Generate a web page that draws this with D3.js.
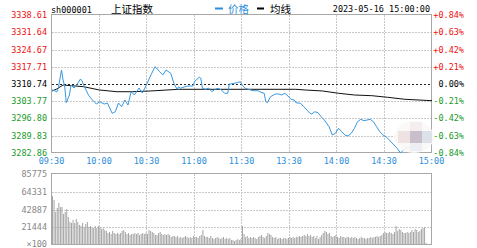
<!DOCTYPE html>
<html>
<head>
<meta charset="utf-8">
<script src="https://cdn.jsdelivr.net/npm/d3@7"></script>
<style>
body{margin:0;background:#fff;}
svg{display:block;}
.mono{font-family:"DejaVu Sans Mono",monospace;font-size:8.5px;}
.cjk{font-family:"Noto Sans CJK SC",sans-serif;font-size:10.5px;}
</style>
</head>
<body>
<svg id="chart" width="477" height="248"></svg>
<script>
var preClose = 3310.74;
var yTicks = [3338.61, 3331.64, 3324.67, 3317.71, 3310.74, 3303.77, 3296.80, 3289.83, 3282.86];
var pctTicks = ['+0.84%', '+0.63%', '+0.42%', '+0.21%', '0.00%', '-0.21%', '-0.42%', '-0.63%', '-0.84%'];
var timeTicks = [0, 30, 60, 90, 120, 150, 180, 210, 240];
var timeLabels = ['09:30', '10:00', '10:30', '11:00', '11:30', '13:30', '14:00', '14:30', '15:00'];
var volTicks = [85775, 64331, 42887, 21444];

// minutes after 09:30 (lunch break removed) and price at that minute
var priceMin = [0,2,3,4,6,7,8,9,11,12,14,16,18,19,20,23,25,28,30,33,35,38,40,42,44,46,48,50,52,55,57,59,61,63,65,66,68,70,72,75,77,79,80,81,84,86,89,90,91,93,94,95,97,99,101,103,105,107,109,111,112,113,115,117,119,120,122,124,127,130,132,134,135,136,138,141,143,145,147,149,151,153,154,157,159,161,163,164,166,168,170,172,175,177,179,181,183,185,187,189,191,193,195,197,199,201,203,205,207,209,211,213,216,218,220,221,223,225,229,234,238,240];
var price = [3308.31,3307.91,3307.50,3309.12,3316.39,3312.35,3309.93,3303.18,3306.29,3310.33,3309.12,3310.74,3312.75,3311.95,3310.33,3306.29,3304.67,3302.65,3303.58,3302.65,3303.06,3298.90,3299.54,3303.06,3301.56,3304.27,3302.25,3307.62,3306.29,3309.12,3307.10,3309.52,3312.35,3315.06,3317.72,3317.20,3315.70,3314.37,3316.39,3315.06,3311.02,3308.59,3309.64,3309.00,3309.64,3309.93,3309.93,3311.66,3312.35,3313.44,3313.04,3309.00,3308.59,3309.12,3307.62,3308.59,3309.00,3308.31,3306.98,3306.98,3310.73,3310.73,3311.02,3311.26,3311.66,3310.33,3309.00,3308.59,3308.03,3308.03,3307.38,3306.98,3303.58,3303.18,3305.60,3306.70,3306.70,3306.29,3306.98,3305.89,3304.55,3304.27,3303.18,3302.94,3301.56,3300.23,3298.90,3298.61,3299.54,3299.14,3297.52,3296.19,3293.48,3290.13,3290.82,3292.84,3291.46,3290.13,3289.73,3290.82,3292.84,3295.50,3296.47,3295.91,3296.19,3296.47,3295.50,3293.48,3291.46,3290.13,3289.44,3288.11,3286.09,3284.76,3282.98,3283.39,3284.76,3285.00,3286.09,3288.11,3290.13,3290.99];

var avgMin = [0,3,7,20,30,41,51,62,80,122,154,160,171,181,191,202,212,223,240];
var avgPrice = [3307.91,3308.72,3310.33,3309.64,3308.31,3307.62,3307.62,3307.91,3308.59,3308.59,3308.59,3308.31,3307.91,3306.98,3306.29,3306.01,3305.36,3304.55,3303.99];

// volume per minute, x100 hands
var volume = [59200,54400,39900,44700,50700,45900,45900,37500,39900,43500,
33800,27800,26600,30200,26600,31400,27800,24200,23000,26600,
21700,25400,27800,21700,23000,20500,20500,23000,20500,23000,
21700,19300,20500,18100,16900,14500,15700,13300,16900,14500,
13300,14500,13300,14500,16900,18100,15700,13300,14500,12100,
13300,13300,14500,13300,14500,12100,13300,14500,13300,14500,
13300,18100,16900,15700,14500,12100,12100,14500,15700,13300,
12100,13300,12100,13300,12100,9700,10900,10900,9700,10900,
8500,9700,8500,9700,10900,9700,8500,9700,8500,10900,
9700,9700,8500,10900,12100,18100,10900,9700,9700,8500,
10900,8500,7200,8500,9700,8500,7200,8500,9700,7200,
8500,7200,8500,6000,6000,4800,6000,7200,6000,7200,
23000,13300,9700,10900,8500,9700,8500,9700,8500,7200,
9700,10900,12100,9700,8500,10900,14500,13300,12100,9700,
8500,9700,7200,8500,8500,7200,8500,8500,7200,8500,
9700,8500,9700,8500,9700,9700,10900,9700,10900,12100,
10900,13300,10900,12100,9700,10900,8500,10900,7200,9700,
12100,14500,16900,15700,13300,14500,10900,9700,10900,12100,
9700,8500,10900,9700,9700,8500,9700,9700,8500,9700,
8500,9700,8500,7200,8500,9700,8500,8500,7200,8500,
8500,9700,8500,9700,9700,10900,9700,10900,12100,14500,
15700,14500,14500,15700,14500,13300,15700,23000,16900,19300,
18100,15700,14500,14500,15700,14500,15700,18100,15700,19300,
18100,15700,16900,19300,20500,21700,2400,0,0,0];

var svg;
var xScale, yScale, vScale;
var plot = {left:52, right:432, top:15, bottom:153};
var vplot = {top:174, bottom:245};
var gridColor = '#c8c8c8';
var blue = '#2b8ddb';
var red = '#f01010';
var green = '#1a9a2a';

document.addEventListener('DOMContentLoaded', function(){
    svg = d3.select('#chart');
    xScale = d3.scaleLinear().domain([0,240]).range([plot.left, plot.right]);
    yScale = d3.scaleLinear().domain([3282.86, 3338.61]).range([plot.bottom, plot.top]);
    vScale = d3.scaleLinear().domain([0, 85775]).range([vplot.bottom, vplot.top]);

    drawHeader();
    drawPriceGrid();
    drawPrice();
    drawVolume();
});

function labelColor(v){
    if (Math.abs(v - preClose) < 0.01) return '#000';
    return v > preClose ? red : green;
}

function drawHeader(){
    svg.append('text').attr('class','mono').attr('x',51).attr('y',12.5).text('sh000001');
    svg.append('text').attr('class','cjk').attr('x',111).attr('y',13).text('上证指数');

    svg.append('line').attr('x1',215).attr('x2',223).attr('y1',8.5).attr('y2',8.5)
        .attr('stroke',blue).attr('stroke-width',2);
    svg.append('text').attr('class','cjk').attr('x',228).attr('y',13).attr('fill',blue).text('价格');
    svg.append('line').attr('x1',257).attr('x2',264).attr('y1',8.5).attr('y2',8.5)
        .attr('stroke','#000').attr('stroke-width',2);
    svg.append('text').attr('class','cjk').attr('x',270).attr('y',13).text('均线');

    svg.append('text').attr('class','mono').attr('x',430).attr('y',12).attr('text-anchor','end')
        .text('2023-05-16 15:00:00');
}

function drawPriceGrid(){
    // horizontal grid
    svg.selectAll('.hgrid')
        .data(yTicks.filter(d => d != yTicks[0] && d != yTicks[yTicks.length-1] && d != preClose))
        .join('line')
        .attr('class','hgrid')
        .attr('x1',plot.left).attr('x2',plot.right)
        .attr('y1',d => Math.round(yScale(d))+0.5).attr('y2',d => Math.round(yScale(d))+0.5)
        .attr('stroke',gridColor).attr('stroke-dasharray','2,1');

    svg.selectAll('.vgrid')
        .data(timeTicks.slice(1,-1))
        .join('line')
        .attr('class','vgrid')
        .attr('x1',d => Math.round(xScale(d))-0.5).attr('x2',d => Math.round(xScale(d))-0.5)
        .attr('y1',plot.top).attr('y2',plot.bottom)
        .attr('stroke',gridColor).attr('stroke-dasharray','2,1');

    // previous close
    svg.append('line')
        .attr('x1',plot.left).attr('x2',plot.right)
        .attr('y1',Math.round(yScale(preClose))+0.5).attr('y2',Math.round(yScale(preClose))+0.5)
        .attr('stroke','#222').attr('stroke-dasharray','2,2');

    svg.append('rect')
        .attr('x',plot.left-0.5).attr('y',plot.top-0.5)
        .attr('width',plot.right-plot.left).attr('height',plot.bottom-plot.top)
        .attr('fill','none').attr('stroke','#a8a8a8');

    svg.selectAll('.ylab')
        .data(yTicks)
        .join('text')
        .attr('class','mono ylab')
        .attr('x',47)
        .attr('y',d => yScale(d)+3)
        .attr('text-anchor','end')
        .attr('fill',d => labelColor(d))
        .text(d => d.toFixed(2));

    svg.selectAll('.plab')
        .data(pctTicks)
        .join('text')
        .attr('class','mono plab')
        .attr('x',464)
        .attr('y',(d,i) => yScale(yTicks[i])+3)
        .attr('text-anchor','end')
        .attr('fill',(d,i) => labelColor(yTicks[i]))
        .text(d => d);

    svg.selectAll('.xlab')
        .data(timeTicks)
        .join('text')
        .attr('class','mono xlab')
        .attr('x',d => xScale(d)-0.5)
        .attr('y',164)
        .attr('text-anchor','middle')
        .attr('fill',blue)
        .text((d,i) => timeLabels[i]);
}

function drawPrice(){
    var line = d3.line().x(d => xScale(d[0])).y(d => yScale(d[1]));

    svg.append('path')
        .datum(avgMin.map((m,i) => [m, avgPrice[i]]))
        .attr('d',line)
        .attr('fill','none')
        .attr('stroke','#111')
        .attr('stroke-width',1);

    svg.append('path')
        .datum(priceMin.map((m,i) => [m, price[i]]))
        .attr('d',line)
        .attr('fill','none')
        .attr('stroke','#3797e0')
        .attr('stroke-width',1);

    // blurred mosaic patch over the end of the line
    var g = svg.append('g');
    g.append('ellipse').attr('cx',414).attr('cy',137).attr('rx',20).attr('ry',16)
        .attr('fill','#fbf7f7').attr('opacity',0.9);
    g.append('rect').attr('x',398).attr('y',131).attr('width',12).attr('height',12).attr('fill','#efe2e3');
    g.append('rect').attr('x',410).attr('y',131).attr('width',12).attr('height',12).attr('fill','#c9bfca');
    g.append('rect').attr('x',422).attr('y',131).attr('width',10).attr('height',12).attr('fill','#dde2ea');
    g.append('rect').attr('x',410).attr('y',122).attr('width',12).attr('height',9).attr('fill','#f4eeef');
    g.append('rect').attr('x',410).attr('y',143).attr('width',12).attr('height',8).attr('fill','#eceef3');
}

function drawVolume(){
    svg.selectAll('.vhgrid')
        .data(volTicks.slice(1))
        .join('line')
        .attr('class','vhgrid')
        .attr('x1',plot.left).attr('x2',plot.right)
        .attr('y1',d => Math.round(vScale(d))+0.5).attr('y2',d => Math.round(vScale(d))+0.5)
        .attr('stroke',gridColor).attr('stroke-dasharray','2,1');

    svg.selectAll('.vvgrid')
        .data(timeTicks.slice(1,-1))
        .join('line')
        .attr('class','vvgrid')
        .attr('x1',d => Math.round(xScale(d))-0.5).attr('x2',d => Math.round(xScale(d))-0.5)
        .attr('y1',vplot.top).attr('y2',vplot.bottom)
        .attr('stroke',gridColor).attr('stroke-dasharray','2,1');

    svg.selectAll('.vbar')
        .data(volume)
        .join('rect')
        .attr('class','vbar')
        .attr('x',(d,i) => xScale(i))
        .attr('y',d => vScale(d))
        .attr('width',1)
        .attr('height',d => vplot.bottom - vScale(d))
        .attr('fill','#a4a4a4');

    svg.append('rect')
        .attr('x',plot.left-0.5).attr('y',vplot.top-0.5)
        .attr('width',plot.right-plot.left).attr('height',vplot.bottom-vplot.top)
        .attr('fill','none').attr('stroke','#a8a8a8');

    svg.selectAll('.vlab')
        .data(volTicks)
        .join('text')
        .attr('class','mono vlab')
        .attr('x',47)
        .attr('y',d => vScale(d)+3)
        .attr('text-anchor','end')
        .attr('fill','#888')
        .text(d => d);

    svg.append('text').attr('class','mono').attr('x',47).attr('y',vplot.bottom+2)
        .attr('text-anchor','end').attr('fill','#888').text('×100');
}
</script>
</body>
</html>
